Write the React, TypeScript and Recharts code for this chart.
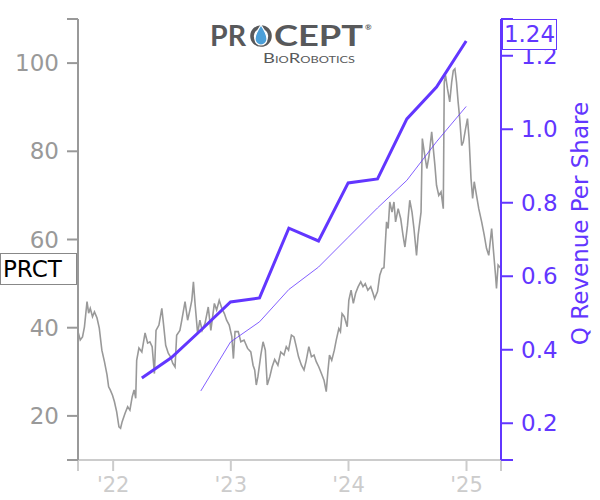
import React from 'react';
import { ComposedChart, Line, XAxis, YAxis } from 'recharts';

// daily-ish close prices
const PRICE: [string, number][] = [
  ['2021-09-14', 39.1], ['2021-09-21', 37.2], ['2021-09-28', 37.9], ['2021-10-04', 40.2], ['2021-10-12', 45.9],
  ['2021-10-17', 43.3], ['2021-10-22', 44.4], ['2021-10-29', 42.5], ['2021-11-04', 43.6], ['2021-11-12', 42.2],
  ['2021-11-19', 39.9], ['2021-11-27', 34.9], ['2021-12-05', 32.3], ['2021-12-13', 29.3], ['2021-12-18', 26.6],
  ['2021-12-23', 25.9], ['2021-12-30', 24.7], ['2022-01-05', 23.2], ['2022-01-12', 20.9], ['2022-01-19', 17.5],
  ['2022-01-24', 17.2], ['2022-01-29', 18.7], ['2022-02-07', 20.6], ['2022-02-15', 22.1], ['2022-02-22', 21.3],
  ['2022-03-01', 24.3], ['2022-03-07', 25.9], ['2022-03-12', 24.0], ['2022-03-15', 32.6], ['2022-03-22', 35.4],
  ['2022-03-31', 34.5], ['2022-04-10', 38.8], ['2022-04-18', 36.5], ['2022-04-25', 36.8], ['2022-05-02', 35.7],
  ['2022-05-09', 29.6], ['2022-05-14', 39.4], ['2022-05-23', 40.6], ['2022-06-01', 44.4], ['2022-06-06', 41.0],
  ['2022-06-13', 36.0], ['2022-06-21', 34.2], ['2022-06-28', 33.4], ['2022-07-05', 31.9], ['2022-07-12', 31.1],
  ['2022-07-17', 38.3], ['2022-07-27', 39.4], ['2022-08-02', 41.7], ['2022-08-12', 45.9], ['2022-08-20', 41.7],
  ['2022-08-27', 44.0], ['2022-09-02', 46.2], ['2022-09-07', 50.4], ['2022-09-12', 45.5], ['2022-09-20', 38.7],
  ['2022-09-27', 41.7], ['2022-10-04', 39.4], ['2022-10-13', 41.0], ['2022-10-23', 44.7], ['2022-10-31', 39.4],
  ['2022-11-11', 45.5], ['2022-11-18', 44.0], ['2022-11-26', 46.2], ['2022-12-04', 44.4], ['2022-12-12', 43.2],
  ['2022-12-19', 41.7], ['2022-12-27', 40.6], ['2023-01-04', 38.0], ['2023-01-09', 33.0], ['2023-01-14', 39.1],
  ['2023-01-24', 39.1], ['2023-02-01', 36.8], ['2023-02-11', 37.2], ['2023-02-22', 35.3], ['2023-03-04', 34.5],
  ['2023-03-11', 31.5], ['2023-03-16', 30.4], ['2023-03-21', 27.0], ['2023-03-26', 28.9], ['2023-04-04', 33.8],
  ['2023-04-11', 36.8], ['2023-04-18', 34.9], ['2023-04-24', 27.0], ['2023-05-02', 28.9], ['2023-05-09', 31.1],
  ['2023-05-17', 32.8], ['2023-05-27', 31.5], ['2023-06-05', 34.5], ['2023-06-15', 33.8], ['2023-06-22', 35.7],
  ['2023-06-29', 34.9], ['2023-07-08', 38.3], ['2023-07-16', 37.9], ['2023-07-23', 35.7], ['2023-07-30', 33.4],
  ['2023-08-08', 31.5], ['2023-08-16', 30.4], ['2023-08-23', 32.6], ['2023-08-31', 35.7], ['2023-09-08', 33.4],
  ['2023-09-16', 33.8], ['2023-09-23', 32.3], ['2023-10-01', 31.1], ['2023-10-09', 29.6], ['2023-10-17', 28.1],
  ['2023-10-24', 25.5], ['2023-10-29', 30.0], ['2023-11-03', 33.8], ['2023-11-10', 32.6], ['2023-11-18', 34.9],
  ['2023-11-24', 37.2], ['2023-12-02', 39.8], ['2023-12-07', 39.1], ['2023-12-12', 43.2], ['2023-12-19', 42.5],
  ['2023-12-28', 40.2], ['2024-01-02', 46.2], ['2024-01-09', 48.5], ['2024-01-16', 45.5], ['2024-01-23', 47.8],
  ['2024-01-31', 49.3], ['2024-02-08', 50.4], ['2024-02-15', 49.3], ['2024-02-22', 50.0], ['2024-03-01', 48.5],
  ['2024-03-10', 49.3], ['2024-03-17', 47.8], ['2024-03-22', 46.6], ['2024-03-31', 48.2], ['2024-04-07', 51.9],
  ['2024-04-14', 53.4], ['2024-04-20', 53.6], ['2024-04-28', 64.0], ['2024-05-03', 62.5], ['2024-05-08', 68.5],
  ['2024-05-15', 66.2], ['2024-05-21', 68.5], ['2024-05-26', 64.0], ['2024-06-03', 67.0], ['2024-06-11', 64.7],
  ['2024-06-18', 61.0], ['2024-06-24', 58.3], ['2024-07-02', 63.2], ['2024-07-09', 68.9], ['2024-07-16', 66.2],
  ['2024-07-22', 62.5], ['2024-07-30', 56.4], ['2024-08-04', 61.0], ['2024-08-13', 66.2], ['2024-08-17', 82.9],
  ['2024-08-23', 79.8], ['2024-08-31', 76.1], ['2024-09-07', 79.1], ['2024-09-15', 84.4], ['2024-09-20', 80.6],
  ['2024-09-25', 76.8], ['2024-09-30', 72.3], ['2024-10-07', 70.0], ['2024-10-14', 70.8], ['2024-10-21', 67.0],
  ['2024-10-24', 95.7], ['2024-10-28', 97.2], ['2024-11-03', 94.2], ['2024-11-10', 91.2], ['2024-11-16', 95.7],
  ['2024-11-21', 98.3], ['2024-11-26', 98.7], ['2024-12-01', 95.7], ['2024-12-06', 91.2], ['2024-12-11', 87.4],
  ['2024-12-17', 81.3], ['2024-12-22', 82.1], ['2024-12-29', 85.1], ['2025-01-04', 87.4], ['2025-01-09', 82.9],
  ['2025-01-15', 73.8], ['2025-01-20', 69.3], ['2025-01-25', 73.1], ['2025-02-01', 70.0], ['2025-02-08', 67.0],
  ['2025-02-17', 64.0], ['2025-02-25', 61.0], ['2025-03-04', 58.0], ['2025-03-11', 56.4], ['2025-03-20', 62.5],
  ['2025-03-25', 58.0], ['2025-04-01', 51.9], ['2025-04-04', 48.9], ['2025-04-09', 54.2], ['2025-04-18', 53.4],
];

const QUARTERS = [
  '2022-03-31', '2022-06-30', '2022-09-30', '2022-12-31',
  '2023-03-31', '2023-06-30', '2023-09-30', '2023-12-31',
  '2024-03-31', '2024-06-30', '2024-09-30', '2024-12-31',
];
const REV_PER_SHARE = [0.323, 0.378, 0.453, 0.530, 0.541, 0.731, 0.696, 0.854, 0.865, 1.028, 1.115, 1.240];
const REV_4Q_AVG = [null, null, 0.288, 0.421, 0.476, 0.564, 0.625, 0.706, 0.786, 0.861, 0.966, 1.062];

const X_START = '2021-09-14';
const X_END = '2025-04-18';
const YEAR_TICKS = ['2022-01-01', '2023-01-01', '2024-01-01', '2025-01-01'];
const PRICE_TICKS = [10, 20, 40, 60, 80, 100, 110];
const REV_TICKS = [0.1, 0.2, 0.4, 0.6, 0.8, 1.0, 1.2, 1.3];

const TICKER = 'PRCT';
const PURPLE = '#6236ff';
const GRAY = '#999999';
const LIGHT = '#cccccc';

const ts = (d: string) => new Date(d).getTime();
const T0 = ts(X_START);
const T1 = ts(X_END);

const rows: any[] = [
  ...PRICE.map(([d, p]) => ({ t: ts(d), price: p })),
  ...QUARTERS.map((d, i) => ({ t: ts(d), rev: REV_PER_SHARE[i], avg: REV_4Q_AVG[i] })),
].sort((a, b) => a.t - b.t);

const xTicks = [T0, ...YEAR_TICKS.map(ts), T1];

const RevLabel = ({ viewBox }: any) => {
  const cx = viewBox.x + 79;
  const cy = viewBox.y + viewBox.height / 2 - 16;
  return (
    <text x={cx} y={cy} transform={`rotate(-90 ${cx} ${cy})`} textAnchor="middle"
      dominantBaseline="central" fill={PURPLE} fontSize={23}>
      Q Revenue Per Share
    </text>
  );
};

const Logo = () => (
  <svg width={600} height={80} style={{ position: 'absolute', left: 0, top: 0 }}>
    <g fill="#58595b" fontFamily="Lato, 'Open Sans', sans-serif" fontWeight={700}>
      <text x={210} y={46} fontSize={29} textLength={36} lengthAdjust="spacingAndGlyphs">PR</text>
      <text x={274} y={46} fontSize={29} textLength={89} lengthAdjust="spacingAndGlyphs">CEPT</text>
      <text x={365} y={30} fontSize={8}>®</text>
    </g>
    <circle cx={261} cy={36} r={9} fill="none" stroke="#58595b" strokeWidth={3.6} />
    <path d="M261,25 C257,31 255,35 255,39 A6,6 0 0 0 267,39 C267,35 265,31 261,25 Z"
      fill="#4b9fd8" stroke="#fff" strokeWidth={1.2} />
    <text x={263} y={63} fontSize={13} fill="#58595b" fontFamily="Lato, 'Open Sans', sans-serif"
      textLength={92} lengthAdjust="spacingAndGlyphs" style={{ fontVariant: 'small-caps' }}>
      BioRobotics
    </text>
  </svg>
);

export default function App() {
  const lastRev = REV_PER_SHARE[REV_PER_SHARE.length - 1];
  return (
    <div style={{ position: 'absolute', left: 0, top: 0, width: 600, height: 500, background: '#fff',
      fontFamily: '"DejaVu Sans", sans-serif' }}>
      <ComposedChart width={600} height={500} data={rows} margin={{ top: 19, right: 0, bottom: 0, left: 0 }}>
        <XAxis dataKey="t" type="number" domain={[T0, T1]} allowDataOverflow ticks={xTicks} interval={0}
          height={40} stroke={LIGHT} axisLine={{ stroke: LIGHT, strokeWidth: 2 }}
          tickLine={{ stroke: LIGHT, strokeWidth: 2 }} tickSize={11} tickMargin={6}
          tick={{ fill: LIGHT, fontSize: 21 }}
          tickFormatter={(v: number) => (v === T0 || v === T1 ? '' : "'" + String(new Date(v).getUTCFullYear()).slice(2))} />
        <YAxis yAxisId="price" orientation="left" width={78} domain={[10, 110]} ticks={PRICE_TICKS} interval={0}
          allowDataOverflow stroke={GRAY} axisLine={{ stroke: GRAY, strokeWidth: 2 }}
          tickLine={{ stroke: GRAY, strokeWidth: 2 }} tickSize={11} tickMargin={8}
          tick={{ fill: GRAY, fontSize: 23 }}
          tickFormatter={(v: number) => (v === 10 || v === 110 ? '' : String(v))} />
        <YAxis yAxisId="rev" orientation="right" width={99} domain={[0.1, 1.3]} ticks={REV_TICKS} interval={0}
          allowDataOverflow stroke={PURPLE} axisLine={{ stroke: PURPLE, strokeWidth: 2 }}
          tickLine={{ stroke: PURPLE, strokeWidth: 2 }} tickSize={12} tickMargin={8}
          tick={{ fill: PURPLE, fontSize: 23 }}
          tickFormatter={(v: number) => (v === 0.1 || v === 1.3 ? '' : v.toFixed(1))}
          label={<RevLabel />} />
        <Line yAxisId="price" dataKey="price" type="linear" stroke={GRAY} strokeWidth={1.6} dot={false}
          connectNulls isAnimationActive={false} />
        <Line yAxisId="rev" dataKey="avg" type="linear" stroke={PURPLE} strokeWidth={0.8} dot={false}
          connectNulls isAnimationActive={false} />
        <Line yAxisId="rev" dataKey="rev" type="linear" stroke={PURPLE} strokeWidth={3} dot={false}
          connectNulls isAnimationActive={false} />
      </ComposedChart>
      <Logo />
      <div style={{ position: 'absolute', left: 0, top: 253, width: 73, height: 30, border: '1px solid #888',
        background: '#fff', color: '#000', fontSize: 23, lineHeight: '30px', paddingLeft: 2 }}>
        {TICKER}
      </div>
      <div style={{ position: 'absolute', left: 502, top: 19, width: 53, height: 29, border: `1.5px solid ${PURPLE}`,
        background: '#fff', color: PURPLE, fontSize: 23, lineHeight: '29px', textAlign: 'center' }}>
        {lastRev.toFixed(2)}
      </div>
    </div>
  );
}
